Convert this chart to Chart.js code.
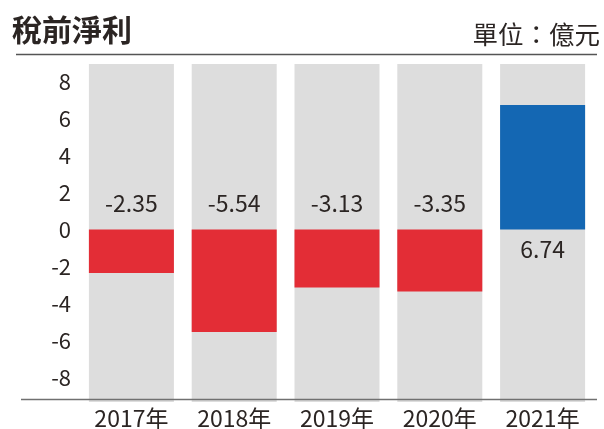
<!DOCTYPE html>
<html>
<head>
<meta charset="utf-8">
<script src="https://cdn.jsdelivr.net/npm/chart.js@4/dist/chart.umd.min.js"></script>
<style>
  html, body { margin: 0; padding: 0; background: #ffffff; }
  #wrap { position: relative; width: 604px; height: 429px; }
  canvas { display: block; }
</style>
</head>
<body>
<div id="wrap"><canvas id="c" width="604" height="429"></canvas></div>
<script>
const title = "稅前淨利";
const unitLabel = "單位：億元";
const categories = ["2017年", "2018年", "2019年", "2020年", "2021年"];
const profitValues = [-2.35, -5.54, -3.13, -3.35, 6.74];
const tickValues = [-8, -6, -4, -2, 0, 2, 4, 6, 8];
const axisMin = -9.32;
const axisMax = 8.95;
const baselineValue = -9.16;

const FONT = '"Noto Sans CJK TC", "Noto Sans", sans-serif';
const TEXT = '#2b2523';
const RED = '#e32d36';
const BLUE = '#1467b3';
const GRAY = '#dddddd';

const decorPlugin = {
  id: 'decor',
  afterDraw(chart) {
    const ctx = chart.ctx;
    const y = chart.scales.y;
    ctx.save();
    // header
    ctx.fillStyle = TEXT;
    ctx.textBaseline = 'middle';
    ctx.textAlign = 'left';
    ctx.font = 'bold 30px ' + FONT;
    ctx.fillText(title, 12, 30);
    ctx.textAlign = 'right';
    ctx.font = '25.5px ' + FONT;
    ctx.fillText(unitLabel, 600, 34);
    ctx.strokeStyle = '#555555';
    ctx.lineWidth = 1.5;
    ctx.beginPath();
    ctx.moveTo(16, 54.5);
    ctx.lineTo(597, 54.5);
    ctx.stroke();
    // baseline axis
    const by = Math.round(y.getPixelForValue(baselineValue)) + 0.5;
    ctx.strokeStyle = '#707070';
    ctx.lineWidth = 1.5;
    ctx.beginPath();
    ctx.moveTo(21, by);
    ctx.lineTo(597, by);
    ctx.stroke();
    // value labels
    const meta = chart.getDatasetMeta(1);
    const zero = y.getPixelForValue(0);
    ctx.font = '23px ' + FONT;
    ctx.textAlign = 'center';
    ctx.fillStyle = TEXT;
    meta.data.forEach((bar, i) => {
      const v = profitValues[i];
      const ty = v < 0 ? zero - 26 : zero + 20;
      ctx.fillText(v.toFixed(2), bar.x, ty);
    });
    ctx.restore();
  }
};

new Chart(document.getElementById('c'), {
  type: 'bar',
  data: {
    labels: categories,
    datasets: [
      {
        label: 'bg',
        data: categories.map(() => [axisMin, axisMax]),
        backgroundColor: GRAY,
        grouped: false,
        order: 2,
        barPercentage: 1,
        categoryPercentage: 0.827
      },
      {
        label: title,
        data: profitValues,
        backgroundColor: profitValues.map(v => v < 0 ? RED : BLUE),
        grouped: false,
        order: 1,
        barPercentage: 1,
        categoryPercentage: 0.827
      }
    ]
  },
  options: {
    responsive: false,
    animation: false,
    devicePixelRatio: 1,
    layout: { padding: { top: 64, right: 10, left: 0, bottom: 0 } },
    plugins: { legend: { display: false }, tooltip: { enabled: false }, title: { display: false } },
    scales: {
      x: {
        offset: true,
        grid: { display: false, drawTicks: false },
        border: { display: false },
        ticks: { color: TEXT, font: { family: FONT, size: 23 }, padding: 2, maxRotation: 0 },
        afterFit(s) { s.height = 27; }
      },
      y: {
        min: axisMin,
        max: axisMax,
        grid: { display: false, drawTicks: false },
        border: { display: false },
        ticks: { color: TEXT, font: { family: FONT, size: 22 }, padding: 9 },
        afterBuildTicks(s) { s.ticks = tickValues.map(v => ({ value: v })); },
        afterFit(s) { s.width = 80; }
      }
    }
  },
  plugins: [decorPlugin]
});
</script>
</body>
</html>
